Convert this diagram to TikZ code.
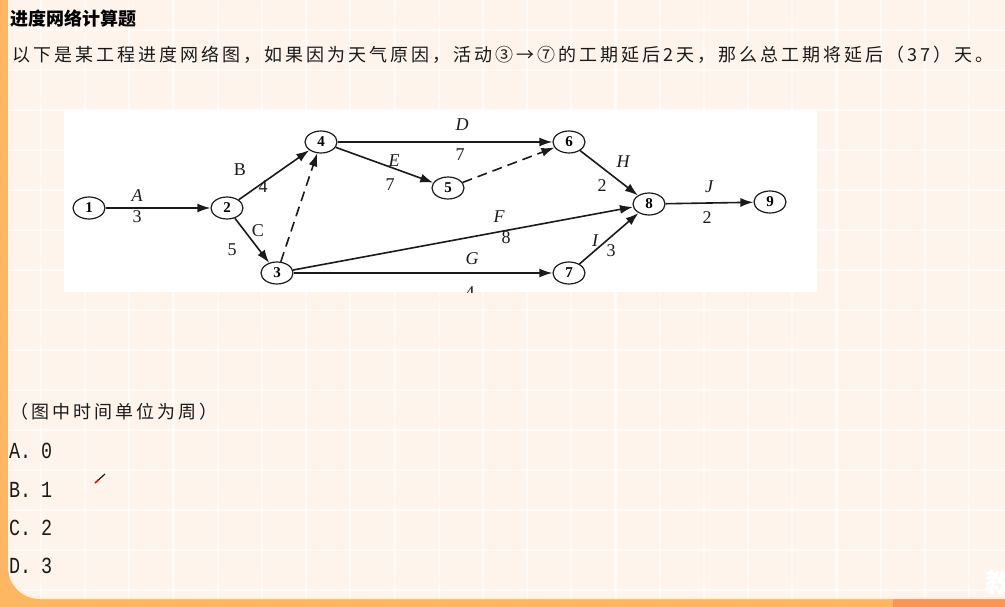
\documentclass[tikz,border=0pt]{standalone}
\usepackage{fontspec}
\usetikzlibrary{shapes.geometric,arrows.meta,calc}
\setmainfont{Liberation Serif}
\newfontfamily\cjk[LetterSpace=16.7]{Noto Sans CJK SC}
\newfontfamily\cjkplain{Noto Sans CJK SC}
\newfontfamily\optfont[FakeStretch=0.8]{Liberation Mono}
\definecolor{panel}{HTML}{FEF4EC}
\definecolor{orangeA}{HTML}{FDB763}
\definecolor{orangeB}{HTML}{F7955B}
\definecolor{ink}{HTML}{1A1A1A}
\tikzset{
  ev/.style={ellipse, draw=ink, line width=1.2pt, fill=white, minimum width=32pt, minimum height=22pt, inner sep=0pt, font=\bfseries\fontsize{15}{15}\selectfont},
  act/.style={line width=1.6pt, draw=ink, -{Latex[length=13pt,width=9pt]}},
  dum/.style={act, dash pattern=on 10pt off 6pt},
  lab/.style={inner sep=0pt, font=\fontsize{18}{18}\selectfont, text=ink},
  labi/.style={lab, font=\itshape\fontsize{18}{18}\selectfont},
  gridline/.style={draw=white, line width=2.2pt, opacity=0.6},
  bodytext/.style={anchor=west, inner sep=0pt, text=ink, font=\cjk\fontsize{18}{18}\selectfont},
  opt/.style={anchor=west, inner sep=0pt, text=ink, font=\optfont\fontsize{23}{23}\selectfont}
}
\begin{document}
\begin{tikzpicture}[x=1pt,y=-1pt]
\useasboundingbox (0,0) rectangle (1005,607);
% frame
\fill[orangeA] (0,0) rectangle (1005,607);
\fill[orangeB] (893,599) rectangle (1005,607);
\fill[panel] (1005,0) -- (8,0) [rounded corners=32pt] -- (8,599) [sharp corners] -- (1005,599) -- cycle;
\begin{scope}
\clip (1005,0) -- (8,0) [rounded corners=32pt] -- (8,599) [sharp corners] -- (1005,599) -- cycle;
\foreach \gx in {0,1,...,22} { \draw[gridline] ({85+44.2*(\gx-1)},0) -- ({85+44.2*(\gx-1)},599); }
\foreach \gy in {0,1,...,15} { \draw[gridline] (0,{30+40*\gy}) -- (1005,{30+40*\gy}); }
\node[text=white, font=\cjkplain\bfseries\fontsize{26}{26}\selectfont, anchor=west, inner sep=0pt] (wm) at (985,583) {教};
\end{scope}
% texts
\node[anchor=west, inner sep=0pt, text=black, font=\cjkplain\bfseries\fontsize{18}{18}\selectfont] (title) at (10,19) {进度网络计算题};
\node[bodytext] (q) at (12,55) {以下是某工程进度网络图，如果因为天气原因，活动③→⑦的工期延后2天，那么总工期将延后（37）天。};
\node[bodytext] (unit) at (10,412) {（图中时间单位为周）};
\node[opt] (oa) at (9,451) {A.};
\node[opt] (oa2) at (41,451) {0};
\node[opt] (ob) at (9,490) {B.};
\node[opt] (ob2) at (41,490) {1};
\node[opt] (oc) at (9,528) {C.};
\node[opt] (oc2) at (41,528) {2};
\node[opt] (od) at (9,566) {D.};
\node[opt] (od2) at (41,566) {3};
% cursor
\coordinate (ctip) at (95,483);
\coordinate (cend) at (105,474);
\draw[line width=1.2pt, ink] (cend) -- ($(ctip)!0.3!(cend)$);
\draw[line width=1.6pt, red] (ctip) -- ($(ctip)!0.35!(cend)$);
% diagram box
\fill[white] (64,111) rectangle (817,292);
\node[ev] (n1) at (89,208) {1};
\node[ev] (n2) at (227,208) {2};
\node[ev] (n3) at (277,273) {3};
\node[ev] (n4) at (321,142) {4};
\node[ev] (n5) at (448,188) {5};
\node[ev] (n6) at (569,142) {6};
\node[ev] (n7) at (569,273) {7};
\node[ev] (n8) at (649,204) {8};
\node[ev] (n9) at (770,202) {9};
\draw[act] (n1) -- (n2);
\draw[act] (n2) -- (n4);
\draw[act] (n2) -- (n3);
\draw[dum] (n3) -- (n4);
\draw[act] (n4) -- (n6);
\draw[act] (n4) -- (n5);
\draw[dum] (n5) -- (n6);
\draw[act] (n6) -- (n8);
\draw[act] (n3) -- (n8);
\draw[act] (n3) -- (n7);
\draw[act] (n7) -- (n8);
\draw[act] (n8) -- (n9);
\node[labi] (la) at (137,196) {A};
\node[lab] (la2) at (137,217) {3};
\node[lab] (lb) at (240,170) {B};
\node[lab] (lb2) at (263,187) {4};
\node[lab] (lc) at (258,231) {C};
\node[lab] (lc2) at (232,250) {5};
\node[labi] (ld) at (462,125) {D};
\node[lab] (ld2) at (460,155) {7};
\node[labi] (le) at (394,161) {E};
\node[lab] (le2) at (390,185) {7};
\node[labi] (lf) at (499,217) {F};
\node[lab] (lf2) at (506,238) {8};
\node[labi] (lg) at (472,259) {G};
\node[labi] (lh) at (623,162) {H};
\node[lab] (lh2) at (602,186) {2};
\node[labi] (li) at (595,241) {I};
\node[lab] (li2) at (611,251) {3};
\node[labi] (lj) at (709,187) {J};
\node[lab] (lj2) at (707,218) {2};
\begin{scope}
\clip (64,111) rectangle (817,292);
\node[lab] (lg2) at (470,293) {4};
\end{scope}
\end{tikzpicture}
\end{document}
